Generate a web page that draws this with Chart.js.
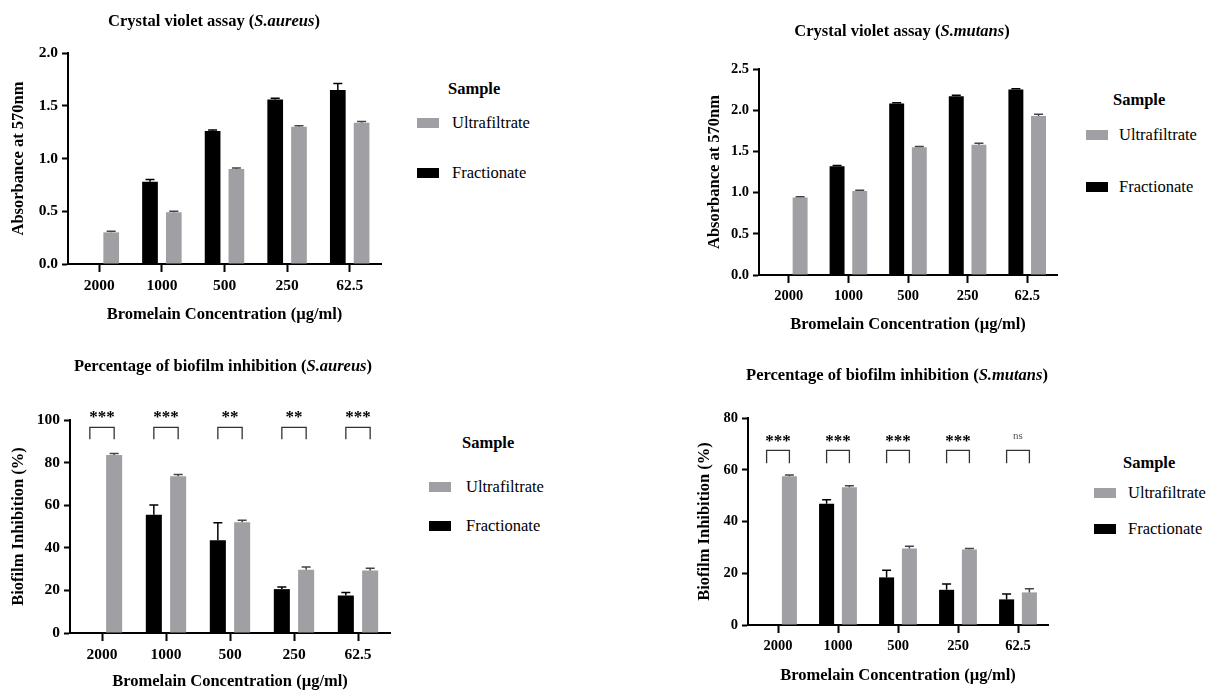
<!DOCTYPE html>
<html>
<head>
<meta charset="utf-8">
<script src="https://cdn.jsdelivr.net/npm/chart.js@4.4.1/dist/chart.umd.min.js"></script>
<style>
body{margin:0;background:#fff;width:1224px;height:692px;overflow:hidden;position:relative;font-family:'Liberation Serif','DejaVu Serif',serif;color:#000;}
canvas{position:absolute;}
.ttl{position:absolute;font-weight:bold;font-size:16.5px;white-space:nowrap;transform:translate(-50%,-50%);}
.lg{position:absolute;font-size:16.5px;white-space:nowrap;transform:translateY(-50%);}
.lgh{font-weight:bold;}
.sw{position:absolute;width:22px;height:10px;transform:translateY(-50%);}
</style>
</head>
<body>
<script>
// donnees
var categories = ['2000', '1000', '500', '250', '62.5'];
var seriesNames = ['Fractionate', 'Ultrafiltrate'];
var seriesColors = ['#000000', '#a0a0a4'];

// Crystal violet assay, S.aureus
var cvAureusFrac = [null, 0.78, 1.26, 1.56, 1.65];
var cvAureusFracErr = [0, 0.02, 0.01, 0.01, 0.06];
var cvAureusUltra = [0.30, 0.49, 0.90, 1.30, 1.34];
var cvAureusUltraErr = [0.01, 0.01, 0.01, 0.01, 0.01];

// Crystal violet assay, S.mutans
var cvMutansFrac = [null, 1.32, 2.08, 2.17, 2.25];
var cvMutansFracErr = [0, 0.01, 0.01, 0.01, 0.01];
var cvMutansUltra = [0.94, 1.02, 1.55, 1.58, 1.93];
var cvMutansUltraErr = [0.01, 0.01, 0.01, 0.02, 0.02];

// Biofilm inhibition, S.aureus
var inhAureusFrac = [null, 55.5, 43.5, 20.6, 17.6];
var inhAureusFracErr = [0, 4.6, 8.3, 1.0, 1.4];
var inhAureusUltra = [83.6, 73.6, 52.0, 29.7, 29.3];
var inhAureusUltraErr = [0.7, 0.8, 0.9, 1.3, 1.1];

// Biofilm inhibition, S.mutans
var inhMutansFrac = [null, 46.9, 18.4, 13.6, 9.9];
var inhMutansFracErr = [0, 1.5, 2.8, 2.2, 2.1];
var inhMutansUltra = [57.5, 53.2, 29.6, 29.2, 12.6];
var inhMutansUltraErr = [0.5, 0.6, 0.8, 0.4, 1.4];

var sigAureus = ['***', '***', '**', '**', '***'];
var sigMutans = ['***', '***', '***', '***', 'ns'];

var ticksCvAureus = [0, 0.5, 1.0, 1.5, 2.0];
var ticksCvMutans = [0, 0.5, 1.0, 1.5, 2.0, 2.5];
var ticksInhAureus = [0, 20, 40, 60, 80, 100];
var ticksInhMutans = [0, 20, 40, 60, 80];

var FONT = "'Liberation Serif', 'DejaVu Serif', serif";
Chart.defaults.font.family = FONT;
Chart.defaults.color = '#000';

var errorBarPlugin = {
  id: 'errorBars',
  afterDatasetsDraw: function(chart) {
    var ctx = chart.ctx, y = chart.scales.y;
    chart.data.datasets.forEach(function(ds, di) {
      var meta = chart.getDatasetMeta(di);
      meta.data.forEach(function(bar, i) {
        var v = ds.data[i];
        if (v == null) return;
        var top = y.getPixelForValue(v + ds.errors[i]);
        ctx.save();
        ctx.strokeStyle = ds.errColor;
        ctx.lineWidth = 1.5;
        ctx.beginPath();
        ctx.moveTo(bar.x, bar.y);
        ctx.lineTo(bar.x, top);
        ctx.moveTo(bar.x - 4.5, top);
        ctx.lineTo(bar.x + 4.5, top);
        ctx.stroke();
        ctx.restore();
      });
    });
  }
};

var sigPlugin = {
  id: 'sig',
  afterDraw: function(chart, args, opts) {
    if (!opts.labels) return;
    var x = chart.scales.x, y = chart.scales.y, ctx = chart.ctx;
    var gray = chart.getDatasetMeta(1).data;
    opts.labels.forEach(function(lab, i) {
      var c = x.getPixelForValue(i);
      var xr = gray[i].x, xl = 2 * c - xr;
      var yt = y.getPixelForValue(opts.top), yl = y.getPixelForValue(opts.leg);
      ctx.save();
      ctx.strokeStyle = '#333';
      ctx.lineWidth = 1.3;
      ctx.beginPath();
      ctx.moveTo(xl, yl); ctx.lineTo(xl, yt); ctx.lineTo(xr, yt); ctx.lineTo(xr, yl);
      ctx.stroke();
      ctx.textAlign = 'center';
      ctx.textBaseline = 'middle';
      if (lab === 'ns') {
        ctx.font = '11px ' + FONT;
        ctx.fillStyle = '#555';
        ctx.fillText(lab, c, y.getPixelForValue(opts.text) - 1);
      } else {
        ctx.font = 'bold 17px ' + FONT;
        ctx.fillStyle = '#000';
        ctx.fillText(lab, c, y.getPixelForValue(opts.text) + 4);
      }
      ctx.restore();
    });
  }
};

function addText(cls, html, left, top) {
  var d = document.createElement('div');
  d.className = cls;
  d.innerHTML = html;
  d.style.left = left + 'px';
  d.style.top = top + 'px';
  document.body.appendChild(d);
}

function addLegend(hx, hy, sx, tx, y1, y2) {
  addText('lg lgh', 'Sample', hx, hy);
  var rows = [[1, y1], [0, y2]];
  rows.forEach(function(r) {
    var s = document.createElement('div');
    s.className = 'sw';
    s.style.left = sx + 'px';
    s.style.top = r[1] + 'px';
    s.style.background = seriesColors[r[0]];
    document.body.appendChild(s);
    addText('lg', seriesNames[r[0]], tx, r[1]);
  });
}

function makeChart(p) {
  var cv = document.createElement('canvas');
  cv.width = p.w; cv.height = p.h;
  cv.style.left = p.left + 'px';
  cv.style.top = p.top + 'px';
  document.body.appendChild(cv);
  var A = p.area;
  new Chart(cv, {
    type: 'bar',
    data: {
      labels: categories,
      datasets: [
        { label: seriesNames[0], data: p.frac, errors: p.fracErr, errColor: '#000',
          backgroundColor: seriesColors[0], categoryPercentage: 0.76, barPercentage: 0.66 },
        { label: seriesNames[1], data: p.ultra, errors: p.ultraErr, errColor: '#444',
          backgroundColor: seriesColors[1], categoryPercentage: 0.76, barPercentage: 0.66 }
      ]
    },
    options: {
      responsive: false,
      animation: false,
      layout: { padding: { top: A.top, right: p.w - A.right, bottom: 0, left: 0 } },
      plugins: {
        legend: { display: false },
        tooltip: { enabled: false },
        sig: p.sig || {}
      },
      scales: {
        x: {
          grid: { display: true, drawOnChartArea: false, drawTicks: true, tickLength: 8, tickWidth: 2, tickColor: '#000', offset: false },
          border: { display: true, color: '#000', width: 2 },
          ticks: { font: { size: p.tickSize, weight: 'bold' }, padding: 5, maxRotation: 0 },
          title: { display: true, text: 'Bromelain Concentration (µg/ml)', font: { size: 16.5, weight: 'bold' }, padding: { top: 0, bottom: p.xTitlePad } },
          afterFit: function(s) { s.height = p.h - A.bottom; }
        },
        y: {
          min: p.ticks[0], max: p.ticks[p.ticks.length - 1],
          grid: { display: true, drawOnChartArea: false, drawTicks: true, tickLength: 6, tickWidth: 2, tickColor: '#000' },
          border: { display: true, color: '#000', width: 2 },
          ticks: { font: { size: p.tickSize, weight: 'bold' }, padding: 4,
            callback: function(v) { return p.decimals ? Number(v).toFixed(1) : v; } },
          afterBuildTicks: function(s) { s.ticks = p.ticks.map(function(v) { return { value: v }; }); },
          title: { display: true, text: p.yTitle, font: { size: 16.5, weight: 'bold' }, padding: { top: p.yTitlePad, bottom: 0 } },
          afterFit: function(s) { s.width = A.left; }
        }
      }
    },
    plugins: [errorBarPlugin, sigPlugin]
  });
}

makeChart({ left: 0, top: 0, w: 400, h: 340, area: { left: 68, right: 381, top: 53, bottom: 264 },
  frac: cvAureusFrac, fracErr: cvAureusFracErr, ultra: cvAureusUltra, ultraErr: cvAureusUltraErr,
  ticks: ticksCvAureus, decimals: true, tickSize: 15.5, yTitle: 'Absorbance at 570nm', yTitlePad: 9, xTitlePad: 15 });

makeChart({ left: 680, top: 0, w: 400, h: 340, area: { left: 79, right: 377, top: 69, bottom: 275 },
  frac: cvMutansFrac, fracErr: cvMutansFracErr, ultra: cvMutansUltra, ultraErr: cvMutansUltraErr,
  ticks: ticksCvMutans, decimals: true, tickSize: 14.5, yTitle: 'Absorbance at 570nm', yTitlePad: 25, xTitlePad: 5 });

makeChart({ left: 0, top: 340, w: 400, h: 352, area: { left: 70, right: 390, top: 80, bottom: 293 },
  frac: inhAureusFrac, fracErr: inhAureusFracErr, ultra: inhAureusUltra, ultraErr: inhAureusUltraErr,
  ticks: ticksInhAureus, decimals: false, tickSize: 15.5, yTitle: 'Biofilm Inhibition (%)', yTitlePad: 9, xTitlePad: 0,
  sig: { labels: sigAureus, top: 96.5, leg: 91, text: 103 } });

makeChart({ left: 680, top: 340, w: 400, h: 352, area: { left: 68, right: 368, top: 78, bottom: 285 },
  frac: inhMutansFrac, fracErr: inhMutansFracErr, ultra: inhMutansUltra, ultraErr: inhMutansUltraErr,
  ticks: ticksInhMutans, decimals: false, tickSize: 14.5, yTitle: 'Biofilm Inhibition (%)', yTitlePad: 15, xTitlePad: 6,
  sig: { labels: sigMutans, top: 67.5, leg: 62.5, text: 72.5 } });

addText('ttl', 'Crystal violet assay (<i>S.aureus</i>)', 214, 21);
addText('ttl', 'Crystal violet assay (<i>S.mutans</i>)', 902, 31);
addText('ttl', 'Percentage of biofilm inhibition (<i>S.aureus</i>)', 223, 366);
addText('ttl', 'Percentage of biofilm inhibition (<i>S.mutans</i>)', 897, 375);

addLegend(448, 89, 417, 452, 123, 173);
addLegend(1113, 100, 1086, 1119, 135, 187);
addLegend(462, 443, 429, 466, 487, 526);
addLegend(1123, 463, 1094, 1128, 493, 529);
</script>
</body>
</html>
